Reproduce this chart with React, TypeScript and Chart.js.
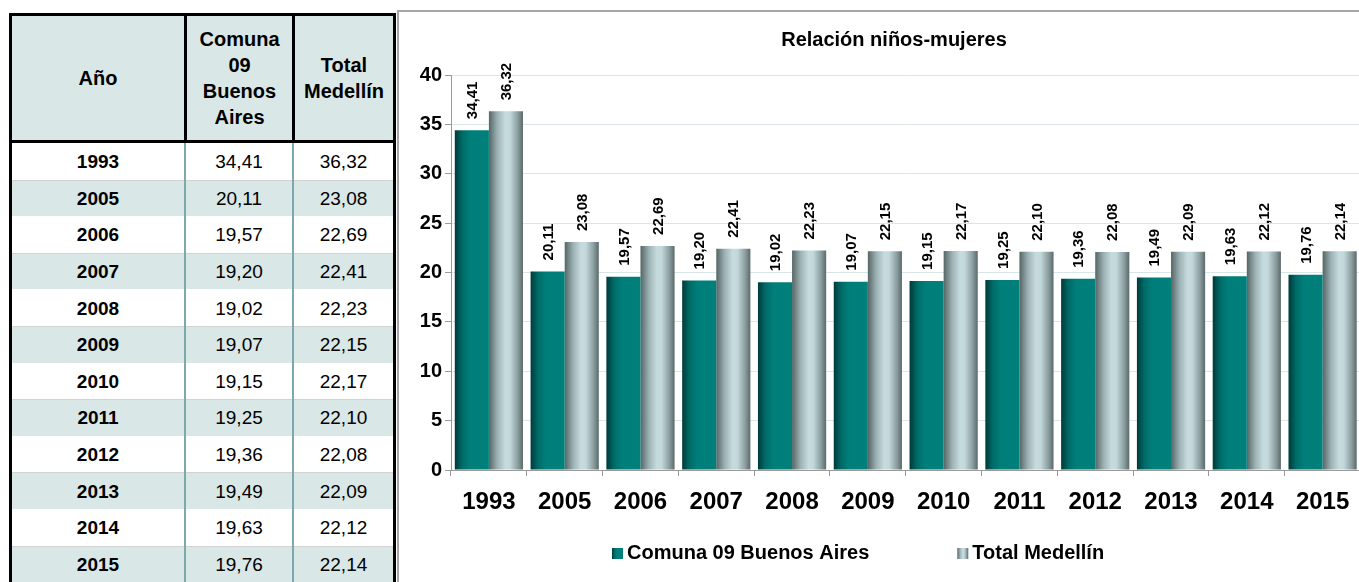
import React, { useEffect, useRef } from "react";
import { Chart, registerables } from "chart.js";

Chart.register(...registerables);

const chartTitle = "Relación niños-mujeres";
const years = ["1993", "2005", "2006", "2007", "2008", "2009", "2010", "2011", "2012", "2013", "2014", "2015"];
const comunaValues = [34.41, 20.11, 19.57, 19.2, 19.02, 19.07, 19.15, 19.25, 19.36, 19.49, 19.63, 19.76];
const medellinValues = [36.32, 23.08, 22.69, 22.41, 22.23, 22.15, 22.17, 22.1, 22.08, 22.09, 22.12, 22.14];
const seriesNames = ["Comuna 09 Buenos Aires", "Total Medellín"];
const tableHeaders = ["Año", "Comuna 09 Buenos Aires", "Total Medellín"];
const yMin = 0;
const yMax = 40;
const yStep = 5;

const FONT = '"Liberation Sans", Arial, Helvetica, sans-serif';
const CAT_PCT = 0.9;

const tealStops: [number, string][] = [
  [0, "#003a3a"],
  [0.22, "#006b67"],
  [0.45, "#007e7a"],
  [1, "#007f7b"],
];
const greyStops: [number, string][] = [
  [0, "#566565"],
  [0.25, "#9db2b5"],
  [0.48, "#c6dbde"],
  [0.62, "#c3d8db"],
  [0.85, "#8a9d9f"],
  [1, "#5b6a6a"],
];
const stopsBySeries = [tealStops, greyStops];

const fmt = (v: number) => v.toFixed(2).replace(".", ",");

function makeGradient(ctx: CanvasRenderingContext2D, left: number, width: number, stops: [number, string][]) {
  const g = ctx.createLinearGradient(left, 0, left + width, 0);
  stops.forEach(([o, c]) => g.addColorStop(o, c));
  return g;
}

function barFill(context: any) {
  const stops = stopsBySeries[context.datasetIndex] || tealStops;
  const fallback = stops[2][1];
  const chart = context.chart;
  const xs = chart.scales && chart.scales.x;
  if (context.type !== "data" || !xs || !isFinite(xs.left) || !(xs.width > 0)) return fallback;
  const cat = xs.width / years.length;
  const bw = (cat * CAT_PCT) / 2;
  const center = xs.getPixelForValue(context.dataIndex);
  if (!isFinite(center)) return fallback;
  const left = context.datasetIndex === 0 ? center - bw : center;
  return makeGradient(chart.ctx, left, bw, stops);
}

const dataLabelPlugin = {
  id: "dataLabels",
  afterDatasetsDraw(chart: any) {
    const ctx = chart.ctx;
    ctx.save();
    ctx.font = `bold 15px ${FONT}`;
    ctx.fillStyle = "#000";
    ctx.textAlign = "left";
    ctx.textBaseline = "middle";
    chart.data.datasets.forEach((ds: any, di: number) => {
      const meta = chart.getDatasetMeta(di);
      meta.data.forEach((el: any, i: number) => {
        ctx.save();
        ctx.translate(el.x + 1, el.y - 11);
        ctx.rotate(-Math.PI / 2);
        ctx.fillText(fmt(ds.data[i]), 0, 0);
        ctx.restore();
      });
    });
    ctx.restore();
  },
};

const legendPlugin = {
  id: "customLegend",
  afterDraw(chart: any) {
    const ctx = chart.ctx;
    const y = chart.chartArea.bottom + 83;
    let x = 213;
    ctx.save();
    ctx.font = `bold 20px ${FONT}`;
    ctx.textBaseline = "middle";
    ctx.textAlign = "left";
    seriesNames.forEach((name, i) => {
      ctx.fillStyle = makeGradient(ctx, x, 11, stopsBySeries[i]);
      ctx.fillRect(x, y - 5, 11, 11);
      ctx.fillStyle = "#000";
      ctx.fillText(name, x + 15, y);
      x += 15 + ctx.measureText(name).width + 88;
    });
    ctx.restore();
  },
};

function ChartPanel() {
  const ref = useRef<HTMLCanvasElement | null>(null);
  useEffect(() => {
    if (!ref.current) return;
    const chart = new Chart(ref.current, {
      type: "bar",
      data: {
        labels: years,
        datasets: [
          {
            label: seriesNames[0],
            data: comunaValues,
            backgroundColor: barFill,
            borderWidth: 0,
            categoryPercentage: CAT_PCT,
            barPercentage: 1,
          },
          {
            label: seriesNames[1],
            data: medellinValues,
            backgroundColor: barFill,
            borderWidth: 0,
            categoryPercentage: CAT_PCT,
            barPercentage: 1,
          },
        ],
      },
      options: {
        responsive: false,
        devicePixelRatio: 1,
        animation: false,
        events: [],
        layout: { padding: { left: 0, right: 0, top: 0, bottom: 62 } },
        plugins: {
          legend: { display: false },
          tooltip: { enabled: false },
          title: {
            display: true,
            text: chartTitle,
            color: "#000",
            font: { family: FONT, size: 20, weight: "bold" },
            padding: { top: 16, bottom: 23 },
          },
        },
        scales: {
          x: {
            type: "category",
            offset: true,
            grid: {
              display: true,
              drawOnChartArea: false,
              drawTicks: true,
              tickLength: 6,
              tickColor: "#9a9a9a",
              offset: true,
            },
            border: { color: "#9a9a9a", width: 1 },
            ticks: {
              color: "#000",
              font: { family: FONT, size: 24, weight: "bold" },
              padding: 12,
              maxRotation: 0,
              autoSkip: false,
            },
            afterFit: (s: any) => {
              s.height = 50;
            },
          },
          y: {
            type: "linear",
            position: "left",
            min: yMin,
            max: yMax,
            grid: { color: "#d8e6e7", tickLength: 6, tickColor: "#9a9a9a" },
            border: { color: "#9a9a9a", width: 1 },
            ticks: {
              stepSize: yStep,
              color: "#000",
              padding: 3,
              font: { family: FONT, size: 20, weight: "bold" },
            },
            afterFit: (s: any) => {
              s.width = 52;
            },
          },
          yRight: {
            type: "linear",
            position: "right",
            display: true,
            grid: { display: false, drawTicks: false },
            border: { display: false },
            ticks: { display: false },
            afterFit: (s: any) => {
              s.width = 28.5;
            },
          },
        },
      },
      plugins: [dataLabelPlugin, legendPlugin],
    } as any);
    return () => chart.destroy();
  }, []);
  return <canvas ref={ref} width={990} height={570} style={{ display: "block" }} />;
}

function DataTable() {
  const stripe = "#dae7e7";
  const colBorder = "2px solid #7ea8ac";
  return (
    <div
      style={{
        position: "absolute",
        left: 9,
        top: 13,
        width: 387,
        height: 620,
        border: "3px solid #000",
        boxSizing: "border-box",
        background: "#fff",
        fontFamily: FONT,
        color: "#000",
      }}
    >
      <div
        style={{
          display: "flex",
          height: 127,
          borderBottom: "3px solid #000",
          boxSizing: "border-box",
          background: stripe,
          fontWeight: "bold",
          fontSize: 20,
          lineHeight: "26px",
        }}
      >
        {tableHeaders.map((h, i) => (
          <div
            key={i}
            style={{
              width: i === 0 ? 175 : i === 1 ? 108 : undefined,
              flex: i === 2 ? 1 : undefined,
              borderRight: i < 2 ? "3px solid #000" : undefined,
              boxSizing: "border-box",
              display: "flex",
              flexDirection: "column",
              alignItems: "center",
              justifyContent: "center",
              textAlign: "center",
            }}
          >
            {h.split(" ").map((w, k) => (
              <span key={k}>{w}</span>
            ))}
          </div>
        ))}
      </div>
      {years.map((yr, r) => (
        <div
          key={yr}
          style={{
            display: "flex",
            height: 36.6,
            background: r % 2 === 1 ? stripe : "#fff",
            boxShadow: r % 2 === 1 ? "inset 0 1px 0 #d2d2d2" : undefined,
            fontSize: 19,
          }}
        >
          {[yr, fmt(comunaValues[r]), fmt(medellinValues[r])].map((t, c) => (
            <div
              key={c}
              style={{
                width: c === 0 ? 174 : c === 1 ? 108 : undefined,
                flex: c === 2 ? 1 : undefined,
                borderRight: c < 2 ? colBorder : undefined,
                boxSizing: "border-box",
                display: "flex",
                alignItems: "center",
                justifyContent: "center",
                fontWeight: c === 0 ? "bold" : "normal",
                paddingTop: 2,
              }}
            >
              {t}
            </div>
          ))}
        </div>
      ))}
    </div>
  );
}

export default function App() {
  return (
    <div
      style={{
        position: "absolute",
        left: 0,
        top: 0,
        width: 1359,
        height: 582,
        overflow: "hidden",
        background: "#fff",
        fontFamily: FONT,
      }}
    >
      <DataTable />
      <div
        style={{
          position: "absolute",
          left: 397,
          top: 10,
          width: 1000,
          height: 620,
          borderTop: "2px solid #a6a6a6",
          borderLeft: "2px solid #a6a6a6",
          boxSizing: "border-box",
        }}
      />
      <div style={{ position: "absolute", left: 399, top: 12, width: 960, height: 570, overflow: "hidden" }}>
        <ChartPanel />
      </div>
    </div>
  );
}
